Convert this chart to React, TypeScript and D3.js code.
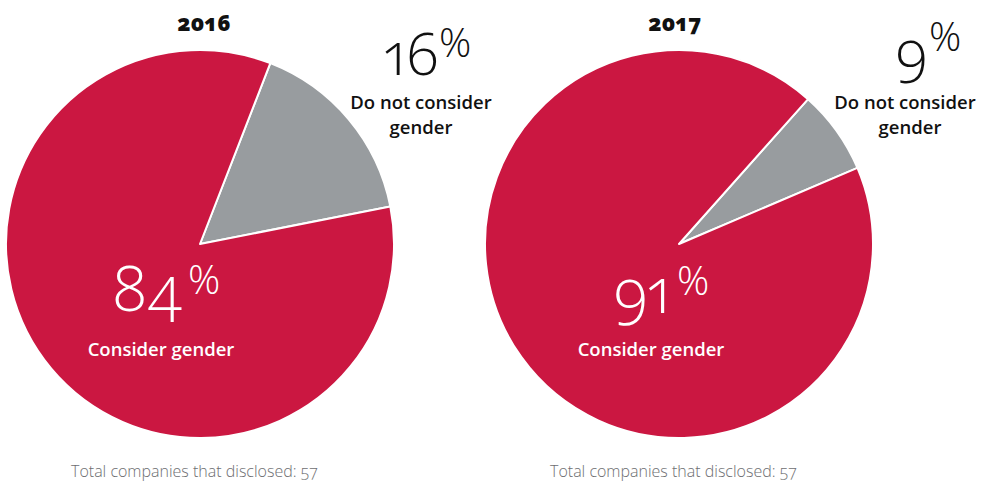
import React from "react";
import * as d3 from "d3";

// ---- data ----
const years = ["2016", "2017"];
const notConsiderShare = [16, 7]; // share of the grey slice as drawn
const considerShare = [84, 93]; // share of the red slice as drawn
const notConsiderLabel = ["16", "9"];
const considerLabel = ["84", "91"];
const categoryNames = ["Do not consider", "gender", "Consider gender"];
const totalDisclosed = [57, 57];

// ---- style / layout ----
const W = 985;
const H = 481;
const RED = "#CB1741";
const GREY = "#989C9F";
const FONT = "'Open Sans', 'Noto Sans', sans-serif";
const centersX = [200, 679];
const centerY = 244;
const radius = 194;
const startDeg = [21.25, 41.7];

const layouts = [
  {
    titleX: 204,
    bigX: 385, bigY: 75, pctX: 439, pctY: 57,
    outLabelX: 421, gLabelX: 421,
    inX: 112, inY: 311, inPctX: 188, inPctY: 294,
    consX: 161,
    footX: 71,
  },
  {
    titleX: 675,
    bigX: 895, bigY: 72, pctX: 929, pctY: 51,
    outLabelX: 905, gLabelX: 910,
    inX: 613, inY: 313, inPctX: 677, inPctY: 295,
    consX: 651,
    footX: 550,
  },
];

const oldStyle: React.CSSProperties = {
  fontVariantNumeric: "oldstyle-nums",
  fontFeatureSettings: "'onum' 1",
};
const oldStyleProp: React.CSSProperties = {
  fontVariantNumeric: "oldstyle-nums proportional-nums",
  fontFeatureSettings: "'onum' 1, 'pnum' 1",
};

function Pie({ i }: { i: number }) {
  const cx = centersX[i];
  const L = layouts[i];
  const a0 = (startDeg[i] * Math.PI) / 180;
  const pie = d3
    .pie<number>()
    .sort(null)
    .value((d) => d)
    .startAngle(a0)
    .endAngle(a0 + 2 * Math.PI);
  const arcs = pie([notConsiderShare[i], considerShare[i]]);
  const arc = d3.arc<d3.PieArcDatum<number>>().innerRadius(0).outerRadius(radius);
  const colors = [GREY, RED];
  return (
    <g>
      <g transform={`translate(${cx},${centerY})`}>
        {arcs.map((a, k) => (
          <path key={k} d={arc(a) || ""} fill={colors[k]} stroke="#fff" strokeWidth={2} strokeLinejoin="round" />
        ))}
      </g>
      <text x={L.titleX} y={31} textAnchor="middle" fontFamily={FONT} fontWeight={800} fontSize={22} fill="#111" style={oldStyle}>
        {years[i]}
      </text>
      <text x={L.bigX} y={L.bigY} fontFamily={FONT} fontWeight={300} fontSize={58} fill="#111" style={oldStyleProp}>
        {notConsiderLabel[i]}
      </text>
      <text x={L.pctX} y={L.pctY} fontFamily={FONT} fontWeight={300} fontSize={40} fill="#111">
        %
      </text>
      <text x={L.outLabelX} y={109} textAnchor="middle" fontFamily={FONT} fontWeight={600} fontSize={18.5} fill="#111">
        {categoryNames[0]}
      </text>
      <text x={L.gLabelX} y={134} textAnchor="middle" fontFamily={FONT} fontWeight={600} fontSize={18.5} fill="#111">
        {categoryNames[1]}
      </text>
      <text x={L.inX} y={L.inY} fontFamily={FONT} fontWeight={300} fontSize={62} fill="#fff" style={oldStyleProp}>
        {considerLabel[i]}
      </text>
      <text x={L.inPctX} y={L.inPctY} fontFamily={FONT} fontWeight={300} fontSize={40} fill="#fff">
        %
      </text>
      <text x={L.consX} y={356} textAnchor="middle" fontFamily={FONT} fontWeight={600} fontSize={18.5} fill="#fff">
        {categoryNames[2]}
      </text>
      <text x={L.footX} y={477} fontFamily={FONT} fontWeight={300} fontSize={16} fill="#6d6e71" style={oldStyle}>
        {`Total companies that disclosed: ${totalDisclosed[i]}`}
      </text>
    </g>
  );
}

export default function App() {
  return (
    <svg
      width={W}
      height={H}
      viewBox={`0 0 ${W} ${H}`}
      style={{ position: "absolute", left: 0, top: 0, background: "#fff" }}
    >
      {years.map((_, i) => (
        <Pie key={i} i={i} />
      ))}
    </svg>
  );
}
